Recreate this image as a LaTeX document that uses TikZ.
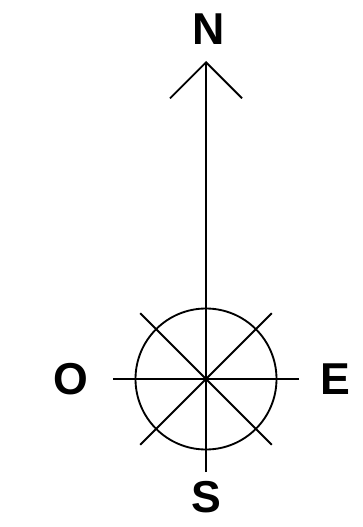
\documentclass[tikz,border=0pt]{standalone}
\usepackage{fontspec}
\setmainfont{Liberation Sans}
\usepackage{tikz}
\usetikzlibrary{arrows.meta, calc}

\begin{document}
\begin{tikzpicture}[
    x=0.75pt, y=-0.75pt,
    line width=1.4pt,
    lbl/.style={inner sep=0pt, font=\fontsize{33.5}{40}\selectfont\bfseries},
    needle/.style={-{Straight Barb[length=27pt, width=54pt, line width=1.4pt]}},
    rose/.style={line width=1.4pt}
]
\useasboundingbox (0,0) rectangle (363,527);

% Centre of the rose and ends of the needle
\coordinate (c) at (206,379);
\coordinate (tip) at (206,61);
\coordinate (tail) at (206,472);

% Cardinal letters
\node[lbl] (N) at (209,29) {N};
\node[lbl] (S) at (206,497) {S};
\node[lbl] (O) at (71,379) {O};
\node[lbl] (E) at (335,379) {E};

% Needle
\draw[needle] (tail) -- (tip);

% Rose
\draw[rose] (c) circle (70.5);
\foreach \a in {0,45,135}
    \draw[rose] ($(c)+(\a:93)$) -- ($(c)+(\a+180:93)$);

\end{tikzpicture}
\end{document}
